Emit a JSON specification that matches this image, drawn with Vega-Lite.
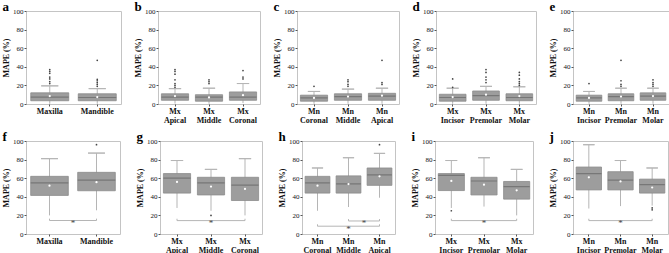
{
"$schema": "https://vega.github.io/schema/vega-lite/v6.json",
"padding": {"left": 2, "top": 0, "right": 0, "bottom": 0},
"datasets": {
"box": [
{"p":"a","c":"Maxilla","lo":0.3,"q1":3.5,"med":7.5,"q3":12,"hi":19.5,"mean":8.5},
{"p":"a","c":"Mandible","lo":0.3,"q1":3.5,"med":7,"q3":11,"hi":16.5,"mean":7.5},
{"p":"b","c":"Mx Apical","lo":0.5,"q1":4,"med":7.5,"q3":11,"hi":16.5,"mean":8.5},
{"p":"b","c":"Mx Middle","lo":0.3,"q1":3,"med":7.5,"q3":10,"hi":17,"mean":7},
{"p":"b","c":"Mx Coronal","lo":1,"q1":4,"med":7.5,"q3":13,"hi":22,"mean":9.5},
{"p":"c","c":"Mn Coronal","lo":0.3,"q1":3,"med":6.5,"q3":9.5,"hi":13.5,"mean":6.5},
{"p":"c","c":"Mn Middle","lo":0.3,"q1":4,"med":8,"q3":11,"hi":16,"mean":8},
{"p":"c","c":"Mn Apical","lo":0.3,"q1":4,"med":8.5,"q3":11.5,"hi":17,"mean":9},
{"p":"d","c":"Mx Incisor","lo":0.3,"q1":3,"med":7,"q3":10.5,"hi":17,"mean":7.5},
{"p":"d","c":"Mx Premolar","lo":0.3,"q1":4,"med":9,"q3":14,"hi":19,"mean":10},
{"p":"d","c":"Mx Molar","lo":0.3,"q1":3.5,"med":7,"q3":11,"hi":18.5,"mean":8.5},
{"p":"e","c":"Mn Incisor","lo":0.3,"q1":3,"med":6.5,"q3":9.5,"hi":13.5,"mean":6.5},
{"p":"e","c":"Mn Premolar","lo":0.3,"q1":3.5,"med":8,"q3":11,"hi":17,"mean":8},
{"p":"e","c":"Mn Molar","lo":0.3,"q1":4,"med":8.5,"q3":12,"hi":17,"mean":8.5},
{"p":"f","c":"Maxilla","lo":20,"q1":41.5,"med":55,"q3":62,"hi":81,"mean":52},
{"p":"f","c":"Mandible","lo":25.5,"q1":46.5,"med":58,"q3":66.3,"hi":87,"mean":55.7},
{"p":"g","c":"Mx Apical","lo":28,"q1":44,"med":60,"q3":65,"hi":79,"mean":56},
{"p":"g","c":"Mx Middle","lo":25,"q1":42,"med":55,"q3":61,"hi":69.5,"mean":51},
{"p":"g","c":"Mx Coronal","lo":20,"q1":36,"med":52.6,"q3":61,"hi":81,"mean":48.4},
{"p":"h","c":"Mn Coronal","lo":25,"q1":44,"med":55,"q3":62,"hi":71,"mean":52},
{"p":"h","c":"Mn Middle","lo":29,"q1":44,"med":54,"q3":62.5,"hi":82,"mean":53.7},
{"p":"h","c":"Mn Apical","lo":39,"q1":52.3,"med":63.5,"q3":71,"hi":86.7,"mean":62},
{"p":"i","c":"Mx Incisor","lo":28,"q1":46.7,"med":63,"q3":65,"hi":79,"mean":57},
{"p":"i","c":"Mx Premolar","lo":29.5,"q1":42,"med":57,"q3":61,"hi":82,"mean":53},
{"p":"i","c":"Mx Molar","lo":20,"q1":37.5,"med":51,"q3":56.5,"hi":69.5,"mean":47},
{"p":"j","c":"Mn Incisor","lo":27.4,"q1":47.4,"med":65,"q3":72,"hi":96,"mean":61},
{"p":"j","c":"Mn Premolar","lo":30,"q1":47.4,"med":58,"q3":67,"hi":79,"mean":56.5},
{"p":"j","c":"Mn Molar","lo":30.5,"q1":44,"med":53,"q3":59,"hi":71,"mean":50}
],
"out": [
{"p":"a","c":"Maxilla","v":22},{"p":"a","c":"Maxilla","v":24},{"p":"a","c":"Maxilla","v":27},{"p":"a","c":"Maxilla","v":29},{"p":"a","c":"Maxilla","v":33},{"p":"a","c":"Maxilla","v":35},{"p":"a","c":"Maxilla","v":37},
{"p":"a","c":"Mandible","v":19},{"p":"a","c":"Mandible","v":21},{"p":"a","c":"Mandible","v":23},{"p":"a","c":"Mandible","v":25},{"p":"a","c":"Mandible","v":26.5},{"p":"a","c":"Mandible","v":47},
{"p":"b","c":"Mx Apical","v":18},{"p":"b","c":"Mx Apical","v":20},{"p":"b","c":"Mx Apical","v":22},{"p":"b","c":"Mx Apical","v":26},{"p":"b","c":"Mx Apical","v":32},{"p":"b","c":"Mx Apical","v":35},{"p":"b","c":"Mx Apical","v":37},
{"p":"b","c":"Mx Middle","v":22},{"p":"b","c":"Mx Middle","v":24},{"p":"b","c":"Mx Middle","v":26},
{"p":"b","c":"Mx Coronal","v":27},{"p":"b","c":"Mx Coronal","v":29},{"p":"b","c":"Mx Coronal","v":36},
{"p":"c","c":"Mn Coronal","v":19},
{"p":"c","c":"Mn Middle","v":19},{"p":"c","c":"Mn Middle","v":21},{"p":"c","c":"Mn Middle","v":24},{"p":"c","c":"Mn Middle","v":26},
{"p":"c","c":"Mn Apical","v":21},{"p":"c","c":"Mn Apical","v":23},{"p":"c","c":"Mn Apical","v":47},
{"p":"d","c":"Mx Incisor","v":18},{"p":"d","c":"Mx Incisor","v":27},
{"p":"d","c":"Mx Premolar","v":23},{"p":"d","c":"Mx Premolar","v":26},{"p":"d","c":"Mx Premolar","v":29},{"p":"d","c":"Mx Premolar","v":34},{"p":"d","c":"Mx Premolar","v":37},
{"p":"d","c":"Mx Molar","v":20},{"p":"d","c":"Mx Molar","v":22},{"p":"d","c":"Mx Molar","v":24},{"p":"d","c":"Mx Molar","v":27},{"p":"d","c":"Mx Molar","v":31},{"p":"d","c":"Mx Molar","v":34},
{"p":"e","c":"Mn Incisor","v":22},
{"p":"e","c":"Mn Premolar","v":19},{"p":"e","c":"Mn Premolar","v":21},{"p":"e","c":"Mn Premolar","v":25},{"p":"e","c":"Mn Premolar","v":47},
{"p":"e","c":"Mn Molar","v":19},{"p":"e","c":"Mn Molar","v":21},{"p":"e","c":"Mn Molar","v":23},{"p":"e","c":"Mn Molar","v":26},
{"p":"f","c":"Mandible","v":96},
{"p":"g","c":"Mx Middle","v":20},
{"p":"h","c":"Mn Apical","v":96},
{"p":"i","c":"Mx Incisor","v":25},
{"p":"j","c":"Mn Molar","v":28},{"p":"j","c":"Mn Molar","v":26}
],
"sig": [
{"p":"f","a":"Maxilla","b":"Mandible","y":14.5,"top":16.5,"mid":0.5,"sy":11.5},
{"p":"g","a":"Mx Apical","b":"Mx Coronal","y":14.4,"top":16.4,"mid":1,"sy":11.5},
{"p":"h","a":"Mn Middle","b":"Mn Apical","y":14,"top":16,"mid":1.5,"sy":11.5},
{"p":"h","a":"Mn Coronal","b":"Mn Apical","y":8.4,"top":10.4,"mid":1,"sy":5.5},
{"p":"i","a":"Mx Incisor","b":"Mx Molar","y":14.4,"top":16.4,"mid":1,"sy":11.5},
{"p":"j","a":"Mn Incisor","b":"Mn Molar","y":14.4,"top":16.4,"mid":1,"sy":11.5}
]
},
"vconcat": [
{"spacing": 12, "hconcat": [
{"width": 95, "height": 93, "title": "a",
 "layer": [
  {"data": {"name": "box"}, "transform": [{"filter": "datum.p == 'a'"}],
   "layer": [
    {"mark": {"type": "rule", "color": "#b5b5b5"}, "encoding": {"x": {"field": "c", "type": "nominal", "scale": {"domain": ["Maxilla","Mandible"], "paddingInner": 0.2, "paddingOuter": 0.1}, "axis": {"title": null, "labelExpr": "split(datum.label, ' ')"}}, "y": {"field": "lo", "type": "quantitative", "title": "MAPE (%)", "scale": {"domain": [0, 100]}, "axis": {"values": [0,20,40,60,80,100], "tickCount": 6, "labelOverlap": false}}, "y2": {"field": "hi"}}},
    {"mark": {"type": "bar", "width": {"band": 0.45}, "fill": null, "stroke": "#b5b5b5", "strokeWidth": 1}, "encoding": {"x": {"field": "c", "type": "nominal"}, "y": {"field": "hi", "type": "quantitative", "title": "MAPE (%)"}, "y2": {"field": "hi"}}},
    {"mark": {"type": "bar", "width": {"band": 1}, "fill": "#9d9d9d", "stroke": "#8c8c8c", "strokeWidth": 0.8}, "encoding": {"x": {"field": "c", "type": "nominal"}, "y": {"field": "q1", "type": "quantitative", "title": "MAPE (%)"}, "y2": {"field": "q3"}}},
    {"mark": {"type": "bar", "width": {"band": 1}, "fill": null, "stroke": "#777777", "strokeWidth": 1.2}, "encoding": {"x": {"field": "c", "type": "nominal"}, "y": {"field": "med", "type": "quantitative", "title": "MAPE (%)"}, "y2": {"field": "med"}}},
    {"mark": {"type": "point", "filled": true, "color": "#ffffff", "size": 5, "opacity": 1}, "encoding": {"x": {"field": "c", "type": "nominal"}, "y": {"field": "mean", "type": "quantitative", "title": "MAPE (%)"}}}
   ]},
  {"data": {"name": "out"}, "transform": [{"filter": "datum.p == 'a'"}], "mark": {"type": "point", "filled": true, "color": "#444444", "size": 3, "opacity": 1}, "encoding": {"x": {"field": "c", "type": "nominal"}, "y": {"field": "v", "type": "quantitative", "title": "MAPE (%)"}}}
 ]},
{"width": 102, "height": 93, "title": "b",
 "layer": [
  {"data": {"name": "box"}, "transform": [{"filter": "datum.p == 'b'"}],
   "layer": [
    {"mark": {"type": "rule", "color": "#b5b5b5"}, "encoding": {"x": {"field": "c", "type": "nominal", "scale": {"domain": ["Mx Apical","Mx Middle","Mx Coronal"], "paddingInner": 0.2, "paddingOuter": 0.1}, "axis": {"title": null, "labelExpr": "split(datum.label, ' ')"}}, "y": {"field": "lo", "type": "quantitative", "title": "MAPE (%)", "scale": {"domain": [0, 100]}, "axis": {"values": [0,20,40,60,80,100], "tickCount": 6, "labelOverlap": false}}, "y2": {"field": "hi"}}},
    {"mark": {"type": "bar", "width": {"band": 0.45}, "fill": null, "stroke": "#b5b5b5", "strokeWidth": 1}, "encoding": {"x": {"field": "c", "type": "nominal"}, "y": {"field": "hi", "type": "quantitative", "title": "MAPE (%)"}, "y2": {"field": "hi"}}},
    {"mark": {"type": "bar", "width": {"band": 1}, "fill": "#9d9d9d", "stroke": "#8c8c8c", "strokeWidth": 0.8}, "encoding": {"x": {"field": "c", "type": "nominal"}, "y": {"field": "q1", "type": "quantitative", "title": "MAPE (%)"}, "y2": {"field": "q3"}}},
    {"mark": {"type": "bar", "width": {"band": 1}, "fill": null, "stroke": "#777777", "strokeWidth": 1.2}, "encoding": {"x": {"field": "c", "type": "nominal"}, "y": {"field": "med", "type": "quantitative", "title": "MAPE (%)"}, "y2": {"field": "med"}}},
    {"mark": {"type": "point", "filled": true, "color": "#ffffff", "size": 5, "opacity": 1}, "encoding": {"x": {"field": "c", "type": "nominal"}, "y": {"field": "mean", "type": "quantitative", "title": "MAPE (%)"}}}
   ]},
  {"data": {"name": "out"}, "transform": [{"filter": "datum.p == 'b'"}], "mark": {"type": "point", "filled": true, "color": "#444444", "size": 3, "opacity": 1}, "encoding": {"x": {"field": "c", "type": "nominal"}, "y": {"field": "v", "type": "quantitative", "title": "MAPE (%)"}}}
 ]},
{"width": 102, "height": 93, "title": "c",
 "layer": [
  {"data": {"name": "box"}, "transform": [{"filter": "datum.p == 'c'"}],
   "layer": [
    {"mark": {"type": "rule", "color": "#b5b5b5"}, "encoding": {"x": {"field": "c", "type": "nominal", "scale": {"domain": ["Mn Coronal","Mn Middle","Mn Apical"], "paddingInner": 0.2, "paddingOuter": 0.1}, "axis": {"title": null, "labelExpr": "split(datum.label, ' ')"}}, "y": {"field": "lo", "type": "quantitative", "title": "MAPE (%)", "scale": {"domain": [0, 100]}, "axis": {"values": [0,20,40,60,80,100], "tickCount": 6, "labelOverlap": false}}, "y2": {"field": "hi"}}},
    {"mark": {"type": "bar", "width": {"band": 0.45}, "fill": null, "stroke": "#b5b5b5", "strokeWidth": 1}, "encoding": {"x": {"field": "c", "type": "nominal"}, "y": {"field": "hi", "type": "quantitative", "title": "MAPE (%)"}, "y2": {"field": "hi"}}},
    {"mark": {"type": "bar", "width": {"band": 1}, "fill": "#9d9d9d", "stroke": "#8c8c8c", "strokeWidth": 0.8}, "encoding": {"x": {"field": "c", "type": "nominal"}, "y": {"field": "q1", "type": "quantitative", "title": "MAPE (%)"}, "y2": {"field": "q3"}}},
    {"mark": {"type": "bar", "width": {"band": 1}, "fill": null, "stroke": "#777777", "strokeWidth": 1.2}, "encoding": {"x": {"field": "c", "type": "nominal"}, "y": {"field": "med", "type": "quantitative", "title": "MAPE (%)"}, "y2": {"field": "med"}}},
    {"mark": {"type": "point", "filled": true, "color": "#ffffff", "size": 5, "opacity": 1}, "encoding": {"x": {"field": "c", "type": "nominal"}, "y": {"field": "mean", "type": "quantitative", "title": "MAPE (%)"}}}
   ]},
  {"data": {"name": "out"}, "transform": [{"filter": "datum.p == 'c'"}], "mark": {"type": "point", "filled": true, "color": "#444444", "size": 3, "opacity": 1}, "encoding": {"x": {"field": "c", "type": "nominal"}, "y": {"field": "v", "type": "quantitative", "title": "MAPE (%)"}}}
 ]},
{"width": 100, "height": 93, "title": "d",
 "layer": [
  {"data": {"name": "box"}, "transform": [{"filter": "datum.p == 'd'"}],
   "layer": [
    {"mark": {"type": "rule", "color": "#b5b5b5"}, "encoding": {"x": {"field": "c", "type": "nominal", "scale": {"domain": ["Mx Incisor","Mx Premolar","Mx Molar"], "paddingInner": 0.2, "paddingOuter": 0.1}, "axis": {"title": null, "labelExpr": "split(datum.label, ' ')"}}, "y": {"field": "lo", "type": "quantitative", "title": "MAPE (%)", "scale": {"domain": [0, 100]}, "axis": {"values": [0,20,40,60,80,100], "tickCount": 6, "labelOverlap": false}}, "y2": {"field": "hi"}}},
    {"mark": {"type": "bar", "width": {"band": 0.45}, "fill": null, "stroke": "#b5b5b5", "strokeWidth": 1}, "encoding": {"x": {"field": "c", "type": "nominal"}, "y": {"field": "hi", "type": "quantitative", "title": "MAPE (%)"}, "y2": {"field": "hi"}}},
    {"mark": {"type": "bar", "width": {"band": 1}, "fill": "#9d9d9d", "stroke": "#8c8c8c", "strokeWidth": 0.8}, "encoding": {"x": {"field": "c", "type": "nominal"}, "y": {"field": "q1", "type": "quantitative", "title": "MAPE (%)"}, "y2": {"field": "q3"}}},
    {"mark": {"type": "bar", "width": {"band": 1}, "fill": null, "stroke": "#777777", "strokeWidth": 1.2}, "encoding": {"x": {"field": "c", "type": "nominal"}, "y": {"field": "med", "type": "quantitative", "title": "MAPE (%)"}, "y2": {"field": "med"}}},
    {"mark": {"type": "point", "filled": true, "color": "#ffffff", "size": 5, "opacity": 1}, "encoding": {"x": {"field": "c", "type": "nominal"}, "y": {"field": "mean", "type": "quantitative", "title": "MAPE (%)"}}}
   ]},
  {"data": {"name": "out"}, "transform": [{"filter": "datum.p == 'd'"}], "mark": {"type": "point", "filled": true, "color": "#444444", "size": 3, "opacity": 1}, "encoding": {"x": {"field": "c", "type": "nominal"}, "y": {"field": "v", "type": "quantitative", "title": "MAPE (%)"}}}
 ]},
{"width": 96, "height": 93, "title": "e",
 "layer": [
  {"data": {"name": "box"}, "transform": [{"filter": "datum.p == 'e'"}],
   "layer": [
    {"mark": {"type": "rule", "color": "#b5b5b5"}, "encoding": {"x": {"field": "c", "type": "nominal", "scale": {"domain": ["Mn Incisor","Mn Premolar","Mn Molar"], "paddingInner": 0.2, "paddingOuter": 0.1}, "axis": {"title": null, "labelExpr": "split(datum.label, ' ')"}}, "y": {"field": "lo", "type": "quantitative", "title": "MAPE (%)", "scale": {"domain": [0, 100]}, "axis": {"values": [0,20,40,60,80,100], "tickCount": 6, "labelOverlap": false}}, "y2": {"field": "hi"}}},
    {"mark": {"type": "bar", "width": {"band": 0.45}, "fill": null, "stroke": "#b5b5b5", "strokeWidth": 1}, "encoding": {"x": {"field": "c", "type": "nominal"}, "y": {"field": "hi", "type": "quantitative", "title": "MAPE (%)"}, "y2": {"field": "hi"}}},
    {"mark": {"type": "bar", "width": {"band": 1}, "fill": "#9d9d9d", "stroke": "#8c8c8c", "strokeWidth": 0.8}, "encoding": {"x": {"field": "c", "type": "nominal"}, "y": {"field": "q1", "type": "quantitative", "title": "MAPE (%)"}, "y2": {"field": "q3"}}},
    {"mark": {"type": "bar", "width": {"band": 1}, "fill": null, "stroke": "#777777", "strokeWidth": 1.2}, "encoding": {"x": {"field": "c", "type": "nominal"}, "y": {"field": "med", "type": "quantitative", "title": "MAPE (%)"}, "y2": {"field": "med"}}},
    {"mark": {"type": "point", "filled": true, "color": "#ffffff", "size": 5, "opacity": 1}, "encoding": {"x": {"field": "c", "type": "nominal"}, "y": {"field": "mean", "type": "quantitative", "title": "MAPE (%)"}}}
   ]},
  {"data": {"name": "out"}, "transform": [{"filter": "datum.p == 'e'"}], "mark": {"type": "point", "filled": true, "color": "#444444", "size": 3, "opacity": 1}, "encoding": {"x": {"field": "c", "type": "nominal"}, "y": {"field": "v", "type": "quantitative", "title": "MAPE (%)"}}}
 ]}
]},
{"spacing": 15, "hconcat": [
{"width": 94, "height": 93, "title": "f",
 "resolve": {"scale": {"x": "independent"}},
 "layer": [
  {"layer": [
   {"data": {"name": "box"}, "transform": [{"filter": "datum.p == 'f'"}],
    "layer": [
     {"mark": {"type": "rule", "color": "#b5b5b5"}, "encoding": {"x": {"field": "c", "type": "nominal", "scale": {"domain": ["Maxilla","Mandible"], "paddingInner": 0.2, "paddingOuter": 0.1}, "axis": {"title": null, "labelExpr": "split(datum.label, ' ')"}}, "y": {"field": "lo", "type": "quantitative", "title": "MAPE (%)", "scale": {"domain": [0, 100]}, "axis": {"values": [0,20,40,60,80,100], "tickCount": 6, "labelOverlap": false}}, "y2": {"field": "hi"}}},
     {"mark": {"type": "bar", "width": {"band": 0.45}, "fill": null, "stroke": "#b5b5b5", "strokeWidth": 1}, "encoding": {"x": {"field": "c", "type": "nominal"}, "y": {"field": "hi", "type": "quantitative", "title": "MAPE (%)"}, "y2": {"field": "hi"}}},
     {"mark": {"type": "bar", "width": {"band": 1}, "fill": "#9d9d9d", "stroke": "#8c8c8c", "strokeWidth": 0.8}, "encoding": {"x": {"field": "c", "type": "nominal"}, "y": {"field": "q1", "type": "quantitative", "title": "MAPE (%)"}, "y2": {"field": "q3"}}},
     {"mark": {"type": "bar", "width": {"band": 1}, "fill": null, "stroke": "#777777", "strokeWidth": 1.2}, "encoding": {"x": {"field": "c", "type": "nominal"}, "y": {"field": "med", "type": "quantitative", "title": "MAPE (%)"}, "y2": {"field": "med"}}},
     {"mark": {"type": "point", "filled": true, "color": "#ffffff", "size": 5, "opacity": 1}, "encoding": {"x": {"field": "c", "type": "nominal"}, "y": {"field": "mean", "type": "quantitative", "title": "MAPE (%)"}}}
    ]},
   {"data": {"name": "out"}, "transform": [{"filter": "datum.p == 'f'"}], "mark": {"type": "point", "filled": true, "color": "#444444", "size": 3, "opacity": 1}, "encoding": {"x": {"field": "c", "type": "nominal"}, "y": {"field": "v", "type": "quantitative", "title": "MAPE (%)"}}},
   {"data": {"name": "sig"}, "transform": [{"filter": "datum.p == 'f'"}],
    "layer": [
     {"mark": {"type": "rule", "color": "#b5b5b5"}, "encoding": {"x": {"field": "a", "type": "nominal"}, "x2": {"field": "b"}, "y": {"field": "y", "type": "quantitative", "title": "MAPE (%)"}}},
     {"mark": {"type": "rule", "color": "#b5b5b5"}, "encoding": {"x": {"field": "a", "type": "nominal"}, "y": {"field": "y", "type": "quantitative", "title": "MAPE (%)"}, "y2": {"field": "top"}}},
     {"mark": {"type": "rule", "color": "#b5b5b5"}, "encoding": {"x": {"field": "b", "type": "nominal"}, "y": {"field": "y", "type": "quantitative", "title": "MAPE (%)"}, "y2": {"field": "top"}}}
    ]}
  ]},
  {"data": {"name": "sig"}, "transform": [{"filter": "datum.p == 'f'"}], "mark": {"type": "text", "text": "*", "fontSize": 9, "color": "#444444", "baseline": "middle"}, "encoding": {"x": {"field": "mid", "type": "quantitative", "scale": {"domain": [-0.5, 1.5]}, "axis": null}, "y": {"field": "sy", "type": "quantitative", "title": "MAPE (%)"}}}
 ]},
{"width": 102, "height": 93, "title": "g",
 "resolve": {"scale": {"x": "independent"}},
 "layer": [
  {"layer": [
   {"data": {"name": "box"}, "transform": [{"filter": "datum.p == 'g'"}],
    "layer": [
     {"mark": {"type": "rule", "color": "#b5b5b5"}, "encoding": {"x": {"field": "c", "type": "nominal", "scale": {"domain": ["Mx Apical","Mx Middle","Mx Coronal"], "paddingInner": 0.2, "paddingOuter": 0.1}, "axis": {"title": null, "labelExpr": "split(datum.label, ' ')"}}, "y": {"field": "lo", "type": "quantitative", "title": "MAPE (%)", "scale": {"domain": [0, 100]}, "axis": {"values": [0,20,40,60,80,100], "tickCount": 6, "labelOverlap": false}}, "y2": {"field": "hi"}}},
     {"mark": {"type": "bar", "width": {"band": 0.45}, "fill": null, "stroke": "#b5b5b5", "strokeWidth": 1}, "encoding": {"x": {"field": "c", "type": "nominal"}, "y": {"field": "hi", "type": "quantitative", "title": "MAPE (%)"}, "y2": {"field": "hi"}}},
     {"mark": {"type": "bar", "width": {"band": 1}, "fill": "#9d9d9d", "stroke": "#8c8c8c", "strokeWidth": 0.8}, "encoding": {"x": {"field": "c", "type": "nominal"}, "y": {"field": "q1", "type": "quantitative", "title": "MAPE (%)"}, "y2": {"field": "q3"}}},
     {"mark": {"type": "bar", "width": {"band": 1}, "fill": null, "stroke": "#777777", "strokeWidth": 1.2}, "encoding": {"x": {"field": "c", "type": "nominal"}, "y": {"field": "med", "type": "quantitative", "title": "MAPE (%)"}, "y2": {"field": "med"}}},
     {"mark": {"type": "point", "filled": true, "color": "#ffffff", "size": 5, "opacity": 1}, "encoding": {"x": {"field": "c", "type": "nominal"}, "y": {"field": "mean", "type": "quantitative", "title": "MAPE (%)"}}}
    ]},
   {"data": {"name": "out"}, "transform": [{"filter": "datum.p == 'g'"}], "mark": {"type": "point", "filled": true, "color": "#444444", "size": 3, "opacity": 1}, "encoding": {"x": {"field": "c", "type": "nominal"}, "y": {"field": "v", "type": "quantitative", "title": "MAPE (%)"}}},
   {"data": {"name": "sig"}, "transform": [{"filter": "datum.p == 'g'"}],
    "layer": [
     {"mark": {"type": "rule", "color": "#b5b5b5"}, "encoding": {"x": {"field": "a", "type": "nominal"}, "x2": {"field": "b"}, "y": {"field": "y", "type": "quantitative", "title": "MAPE (%)"}}},
     {"mark": {"type": "rule", "color": "#b5b5b5"}, "encoding": {"x": {"field": "a", "type": "nominal"}, "y": {"field": "y", "type": "quantitative", "title": "MAPE (%)"}, "y2": {"field": "top"}}},
     {"mark": {"type": "rule", "color": "#b5b5b5"}, "encoding": {"x": {"field": "b", "type": "nominal"}, "y": {"field": "y", "type": "quantitative", "title": "MAPE (%)"}, "y2": {"field": "top"}}}
    ]}
  ]},
  {"data": {"name": "sig"}, "transform": [{"filter": "datum.p == 'g'"}], "mark": {"type": "text", "text": "*", "fontSize": 9, "color": "#444444", "baseline": "middle"}, "encoding": {"x": {"field": "mid", "type": "quantitative", "scale": {"domain": [-0.5, 2.5]}, "axis": null}, "y": {"field": "sy", "type": "quantitative", "title": "MAPE (%)"}}}
 ]},
{"width": 93, "height": 93, "title": "h",
 "resolve": {"scale": {"x": "independent"}},
 "layer": [
  {"layer": [
   {"data": {"name": "box"}, "transform": [{"filter": "datum.p == 'h'"}],
    "layer": [
     {"mark": {"type": "rule", "color": "#b5b5b5"}, "encoding": {"x": {"field": "c", "type": "nominal", "scale": {"domain": ["Mn Coronal","Mn Middle","Mn Apical"], "paddingInner": 0.2, "paddingOuter": 0.1}, "axis": {"title": null, "labelExpr": "split(datum.label, ' ')"}}, "y": {"field": "lo", "type": "quantitative", "title": "MAPE (%)", "scale": {"domain": [0, 100]}, "axis": {"values": [0,20,40,60,80,100], "tickCount": 6, "labelOverlap": false}}, "y2": {"field": "hi"}}},
     {"mark": {"type": "bar", "width": {"band": 0.45}, "fill": null, "stroke": "#b5b5b5", "strokeWidth": 1}, "encoding": {"x": {"field": "c", "type": "nominal"}, "y": {"field": "hi", "type": "quantitative", "title": "MAPE (%)"}, "y2": {"field": "hi"}}},
     {"mark": {"type": "bar", "width": {"band": 1}, "fill": "#9d9d9d", "stroke": "#8c8c8c", "strokeWidth": 0.8}, "encoding": {"x": {"field": "c", "type": "nominal"}, "y": {"field": "q1", "type": "quantitative", "title": "MAPE (%)"}, "y2": {"field": "q3"}}},
     {"mark": {"type": "bar", "width": {"band": 1}, "fill": null, "stroke": "#777777", "strokeWidth": 1.2}, "encoding": {"x": {"field": "c", "type": "nominal"}, "y": {"field": "med", "type": "quantitative", "title": "MAPE (%)"}, "y2": {"field": "med"}}},
     {"mark": {"type": "point", "filled": true, "color": "#ffffff", "size": 5, "opacity": 1}, "encoding": {"x": {"field": "c", "type": "nominal"}, "y": {"field": "mean", "type": "quantitative", "title": "MAPE (%)"}}}
    ]},
   {"data": {"name": "out"}, "transform": [{"filter": "datum.p == 'h'"}], "mark": {"type": "point", "filled": true, "color": "#444444", "size": 3, "opacity": 1}, "encoding": {"x": {"field": "c", "type": "nominal"}, "y": {"field": "v", "type": "quantitative", "title": "MAPE (%)"}}},
   {"data": {"name": "sig"}, "transform": [{"filter": "datum.p == 'h'"}],
    "layer": [
     {"mark": {"type": "rule", "color": "#b5b5b5"}, "encoding": {"x": {"field": "a", "type": "nominal"}, "x2": {"field": "b"}, "y": {"field": "y", "type": "quantitative", "title": "MAPE (%)"}}},
     {"mark": {"type": "rule", "color": "#b5b5b5"}, "encoding": {"x": {"field": "a", "type": "nominal"}, "y": {"field": "y", "type": "quantitative", "title": "MAPE (%)"}, "y2": {"field": "top"}}},
     {"mark": {"type": "rule", "color": "#b5b5b5"}, "encoding": {"x": {"field": "b", "type": "nominal"}, "y": {"field": "y", "type": "quantitative", "title": "MAPE (%)"}, "y2": {"field": "top"}}}
    ]}
  ]},
  {"data": {"name": "sig"}, "transform": [{"filter": "datum.p == 'h'"}], "mark": {"type": "text", "text": "*", "fontSize": 9, "color": "#444444", "baseline": "middle"}, "encoding": {"x": {"field": "mid", "type": "quantitative", "scale": {"domain": [-0.5, 2.5]}, "axis": null}, "y": {"field": "sy", "type": "quantitative", "title": "MAPE (%)"}}}
 ]},
{"width": 98, "height": 93, "title": "i",
 "resolve": {"scale": {"x": "independent"}},
 "layer": [
  {"layer": [
   {"data": {"name": "box"}, "transform": [{"filter": "datum.p == 'i'"}],
    "layer": [
     {"mark": {"type": "rule", "color": "#b5b5b5"}, "encoding": {"x": {"field": "c", "type": "nominal", "scale": {"domain": ["Mx Incisor","Mx Premolar","Mx Molar"], "paddingInner": 0.2, "paddingOuter": 0.1}, "axis": {"title": null, "labelExpr": "split(datum.label, ' ')"}}, "y": {"field": "lo", "type": "quantitative", "title": "MAPE (%)", "scale": {"domain": [0, 100]}, "axis": {"values": [0,20,40,60,80,100], "tickCount": 6, "labelOverlap": false}}, "y2": {"field": "hi"}}},
     {"mark": {"type": "bar", "width": {"band": 0.45}, "fill": null, "stroke": "#b5b5b5", "strokeWidth": 1}, "encoding": {"x": {"field": "c", "type": "nominal"}, "y": {"field": "hi", "type": "quantitative", "title": "MAPE (%)"}, "y2": {"field": "hi"}}},
     {"mark": {"type": "bar", "width": {"band": 1}, "fill": "#9d9d9d", "stroke": "#8c8c8c", "strokeWidth": 0.8}, "encoding": {"x": {"field": "c", "type": "nominal"}, "y": {"field": "q1", "type": "quantitative", "title": "MAPE (%)"}, "y2": {"field": "q3"}}},
     {"mark": {"type": "bar", "width": {"band": 1}, "fill": null, "stroke": "#777777", "strokeWidth": 1.2}, "encoding": {"x": {"field": "c", "type": "nominal"}, "y": {"field": "med", "type": "quantitative", "title": "MAPE (%)"}, "y2": {"field": "med"}}},
     {"mark": {"type": "point", "filled": true, "color": "#ffffff", "size": 5, "opacity": 1}, "encoding": {"x": {"field": "c", "type": "nominal"}, "y": {"field": "mean", "type": "quantitative", "title": "MAPE (%)"}}}
    ]},
   {"data": {"name": "out"}, "transform": [{"filter": "datum.p == 'i'"}], "mark": {"type": "point", "filled": true, "color": "#444444", "size": 3, "opacity": 1}, "encoding": {"x": {"field": "c", "type": "nominal"}, "y": {"field": "v", "type": "quantitative", "title": "MAPE (%)"}}},
   {"data": {"name": "sig"}, "transform": [{"filter": "datum.p == 'i'"}],
    "layer": [
     {"mark": {"type": "rule", "color": "#b5b5b5"}, "encoding": {"x": {"field": "a", "type": "nominal"}, "x2": {"field": "b"}, "y": {"field": "y", "type": "quantitative", "title": "MAPE (%)"}}},
     {"mark": {"type": "rule", "color": "#b5b5b5"}, "encoding": {"x": {"field": "a", "type": "nominal"}, "y": {"field": "y", "type": "quantitative", "title": "MAPE (%)"}, "y2": {"field": "top"}}},
     {"mark": {"type": "rule", "color": "#b5b5b5"}, "encoding": {"x": {"field": "b", "type": "nominal"}, "y": {"field": "y", "type": "quantitative", "title": "MAPE (%)"}, "y2": {"field": "top"}}}
    ]}
  ]},
  {"data": {"name": "sig"}, "transform": [{"filter": "datum.p == 'i'"}], "mark": {"type": "text", "text": "*", "fontSize": 9, "color": "#444444", "baseline": "middle"}, "encoding": {"x": {"field": "mid", "type": "quantitative", "scale": {"domain": [-0.5, 2.5]}, "axis": null}, "y": {"field": "sy", "type": "quantitative", "title": "MAPE (%)"}}}
 ]},
{"width": 95, "height": 93, "title": "j",
 "resolve": {"scale": {"x": "independent"}},
 "layer": [
  {"layer": [
   {"data": {"name": "box"}, "transform": [{"filter": "datum.p == 'j'"}],
    "layer": [
     {"mark": {"type": "rule", "color": "#b5b5b5"}, "encoding": {"x": {"field": "c", "type": "nominal", "scale": {"domain": ["Mn Incisor","Mn Premolar","Mn Molar"], "paddingInner": 0.2, "paddingOuter": 0.1}, "axis": {"title": null, "labelExpr": "split(datum.label, ' ')"}}, "y": {"field": "lo", "type": "quantitative", "title": "MAPE (%)", "scale": {"domain": [0, 100]}, "axis": {"values": [0,20,40,60,80,100], "tickCount": 6, "labelOverlap": false}}, "y2": {"field": "hi"}}},
     {"mark": {"type": "bar", "width": {"band": 0.45}, "fill": null, "stroke": "#b5b5b5", "strokeWidth": 1}, "encoding": {"x": {"field": "c", "type": "nominal"}, "y": {"field": "hi", "type": "quantitative", "title": "MAPE (%)"}, "y2": {"field": "hi"}}},
     {"mark": {"type": "bar", "width": {"band": 1}, "fill": "#9d9d9d", "stroke": "#8c8c8c", "strokeWidth": 0.8}, "encoding": {"x": {"field": "c", "type": "nominal"}, "y": {"field": "q1", "type": "quantitative", "title": "MAPE (%)"}, "y2": {"field": "q3"}}},
     {"mark": {"type": "bar", "width": {"band": 1}, "fill": null, "stroke": "#777777", "strokeWidth": 1.2}, "encoding": {"x": {"field": "c", "type": "nominal"}, "y": {"field": "med", "type": "quantitative", "title": "MAPE (%)"}, "y2": {"field": "med"}}},
     {"mark": {"type": "point", "filled": true, "color": "#ffffff", "size": 5, "opacity": 1}, "encoding": {"x": {"field": "c", "type": "nominal"}, "y": {"field": "mean", "type": "quantitative", "title": "MAPE (%)"}}}
    ]},
   {"data": {"name": "out"}, "transform": [{"filter": "datum.p == 'j'"}], "mark": {"type": "point", "filled": true, "color": "#444444", "size": 3, "opacity": 1}, "encoding": {"x": {"field": "c", "type": "nominal"}, "y": {"field": "v", "type": "quantitative", "title": "MAPE (%)"}}},
   {"data": {"name": "sig"}, "transform": [{"filter": "datum.p == 'j'"}],
    "layer": [
     {"mark": {"type": "rule", "color": "#b5b5b5"}, "encoding": {"x": {"field": "a", "type": "nominal"}, "x2": {"field": "b"}, "y": {"field": "y", "type": "quantitative", "title": "MAPE (%)"}}},
     {"mark": {"type": "rule", "color": "#b5b5b5"}, "encoding": {"x": {"field": "a", "type": "nominal"}, "y": {"field": "y", "type": "quantitative", "title": "MAPE (%)"}, "y2": {"field": "top"}}},
     {"mark": {"type": "rule", "color": "#b5b5b5"}, "encoding": {"x": {"field": "b", "type": "nominal"}, "y": {"field": "y", "type": "quantitative", "title": "MAPE (%)"}, "y2": {"field": "top"}}}
    ]}
  ]},
  {"data": {"name": "sig"}, "transform": [{"filter": "datum.p == 'j'"}], "mark": {"type": "text", "text": "*", "fontSize": 9, "color": "#444444", "baseline": "middle"}, "encoding": {"x": {"field": "mid", "type": "quantitative", "scale": {"domain": [-0.5, 2.5]}, "axis": null}, "y": {"field": "sy", "type": "quantitative", "title": "MAPE (%)"}}}
 ]}
]}
],
"spacing": 5,
"config": {
 "font": "Liberation Serif",
 "view": {"stroke": "#c4c4c4", "strokeWidth": 1},
 "axis": {"grid": false, "domain": false, "labelFont": "Liberation Serif", "labelFontSize": 7, "labelColor": "#111111", "tickColor": "#555555", "tickSize": 2, "titleFont": "Liberation Serif", "titleFontSize": 8, "titleFontWeight": "bold", "titleColor": "#111111", "labelPadding": 1, "titlePadding": 2},
 "axisY": {"labelOverlap": false, "tickCount": 6},
 "axisX": {"labelFontWeight": "bold", "labelAngle": 0, "labelFontSize": 8, "labelLineHeight": 9, "tickSize": 2},
 "title": {"anchor": "start", "frame": "bounds", "font": "Liberation Serif", "fontSize": 13, "fontWeight": "bold", "offset": -7, "color": "#000000"}
}
}
